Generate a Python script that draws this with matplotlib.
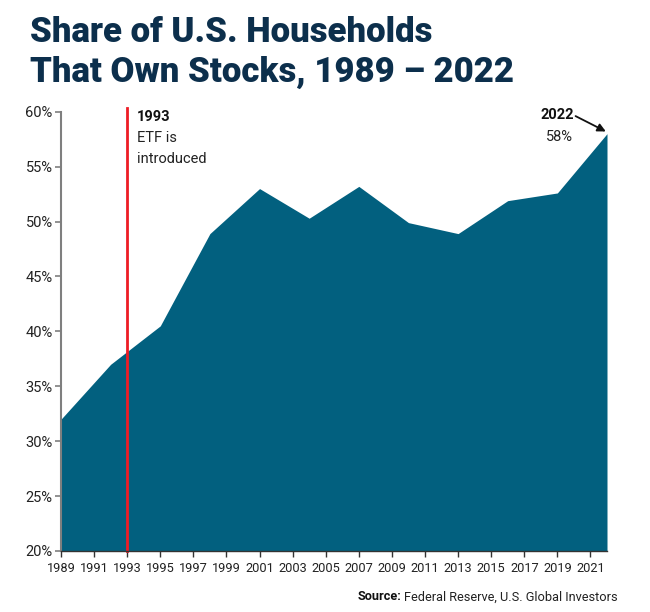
import matplotlib
matplotlib.use('Agg')
import matplotlib.pyplot as plt
import matplotlib.ticker as mtick

# survey years and share of households owning stocks (%)
years = [1989, 1992, 1995, 1998, 2001, 2004, 2007, 2010, 2013, 2016, 2019, 2022]
share = [32.0, 37.0, 40.5, 48.9, 53.0, 50.3, 53.2, 49.9, 48.9, 51.9, 52.6, 58.0]
tick_years = list(range(1989, 2022, 2))
y_ticks = [20, 25, 30, 35, 40, 45, 50, 55, 60]

fill_color = '#02607f'
title_color = '#0c2f4c'
body = ['Roboto', 'DejaVu Sans']

fig = plt.figure(figsize=(6.5, 6.12), dpi=100)
ax = fig.add_axes([61 / 650, 1 - 551 / 612, (607 - 61) / 650, (551 - 111.7) / 612])

ax.fill_between(years, share, 20, color=fill_color, lw=0)
ax.set_xlim(1989, 2022)
ax.set_ylim(20, 60)
ax.set_yticks(y_ticks)
ax.yaxis.set_major_formatter(mtick.FuncFormatter(lambda v, p: '%d%%' % v))
ax.set_xticks(tick_years)

for s in ['top', 'right']:
    ax.spines[s].set_visible(False)
ax.spines['left'].set_color('#7f7f7f')
ax.spines['left'].set_linewidth(1.5)
ax.spines['bottom'].set_color('#333333')
ax.spines['bottom'].set_linewidth(1.0)
ax.tick_params(axis='y', colors='#7f7f7f', length=4, width=1.2, labelcolor='#222222', pad=2)
ax.tick_params(axis='x', colors='#333333', length=4, width=1.0, labelcolor='#222222', pad=4)
for lab in ax.get_yticklabels():
    lab.set_family(body)
    lab.set_fontsize(10.5)
for lab in ax.get_xticklabels():
    lab.set_family(body)
    lab.set_fontsize(9.2)

# ETF launch marker
ax.axvline(1993, ymin=0, ymax=1.008, color='#ee1c25', lw=2, clip_on=False)
ax.text(1993.6, 59.5, '1993', fontsize=10.5, fontweight='bold', family=body, va='center', color='#111111')
ax.text(1993.6, 57.6, 'ETF is', fontsize=10.5, family=body, va='center', color='#222222')
ax.text(1993.6, 55.7, 'introduced', fontsize=10.5, family=body, va='center', color='#222222')

# 2022 callout
ax.text(2019.0, 59.7, '2022', fontsize=10.5, fontweight='bold', family=body, ha='center', va='center', color='#111111')
ax.text(2019.15, 57.7, '58%', fontsize=10.5, family=body, ha='center', va='center', color='#222222')
ax.annotate('', xy=(2021.93, 58.2), xytext=(2020.1, 59.6),
            arrowprops=dict(arrowstyle='-|>', color='#111111', lw=1.3, mutation_scale=12,
                            shrinkA=0, shrinkB=0),
            annotation_clip=False)

fig.text(30 / 650, 1 - 33 / 612, 'Share of U.S. Households', fontsize=25, fontweight='heavy',
         family=body, color=title_color, va='center')
fig.text(30 / 650, 1 - 72 / 612, 'That Own Stocks, 1989 \u2013 2022', fontsize=25, fontweight='heavy',
         family=body, color=title_color, va='center')

src_main = fig.text(618 / 650, 1 - 597 / 612, 'Federal Reserve, U.S. Global Investors', fontsize=9.2,
                    family=body, ha='right', va='center', color='#222222')
fig.canvas.draw()
bb = src_main.get_window_extent(fig.canvas.get_renderer())
fig.text(bb.x0 / 650 - 0.004, 1 - 597 / 612, 'Source:', fontsize=9.2, fontweight='bold',
         family=body, ha='right', va='center', color='#111111')

fig.savefig('out.png', dpi=100, facecolor='white')
